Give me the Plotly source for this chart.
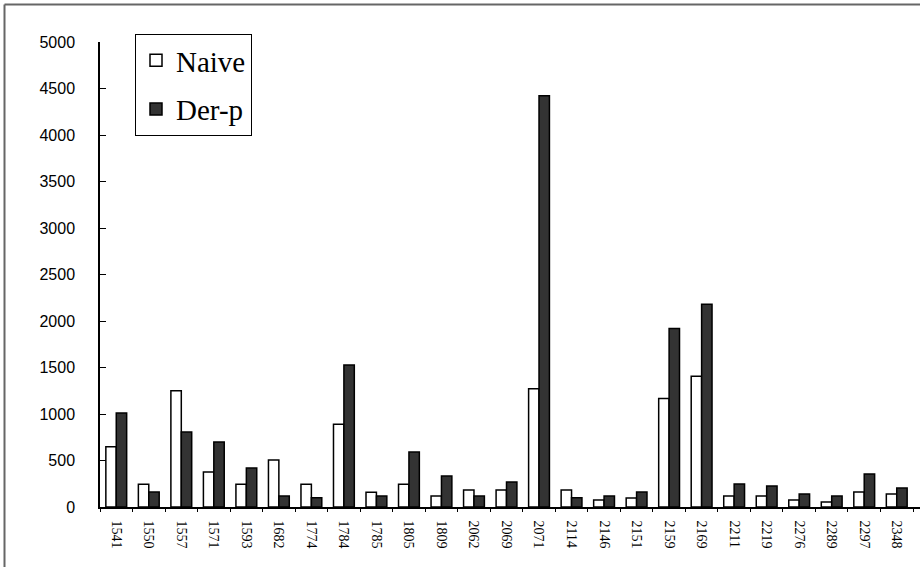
import plotly.graph_objects as go

categories = ["1541", "1550", "1557", "1571", "1593", "1682", "1774", "1784", "1785", "1805",
              "1809", "2062", "2069", "2071", "2114", "2146", "2151", "2159", "2169", "2211",
              "2219", "2276", "2289", "2297", "2348"]
naive = [648, 244, 1251, 376, 244, 505, 244, 889, 158, 244,
         118, 183, 183, 1272, 183, 75, 97, 1168, 1405, 118,
         118, 75, 54, 161, 140]
der_p = [1012, 161, 806, 699, 419, 118, 100, 1527, 118, 591,
         333, 118, 269, 4423, 100, 118, 161, 1920, 2180, 247,
         226, 140, 118, 355, 204]
y_ticks = [0, 500, 1000, 1500, 2000, 2500, 3000, 3500, 4000, 4500, 5000]

W, H = 920, 567
L, R, T, B = 100, 0, 42, 60
pw, ph = W - L - R, H - T - B
step = 32.52  # pixels per category in the reference

fig = go.Figure()
fig.add_trace(go.Bar(x=categories, y=naive, name="Naive", legendgroup="a",
                     marker=dict(color="white", line=dict(color="black", width=1.5))))
fig.add_trace(go.Bar(x=categories, y=der_p, name="Der-p", legendgroup="b",
                     marker=dict(color="#333333", line=dict(color="black", width=1.5))))

# outer frame (top and left edges visible; the rest lies outside the picture)
fx0 = (4.5 - L) / pw
fy1 = 1 + (T - 4.5) / ph
fig.add_shape(type="line", xref="paper", yref="paper", x0=fx0, x1=(W + 10 - L) / pw,
              y0=fy1, y1=fy1, line=dict(color="#666666", width=2))
fig.add_shape(type="line", xref="paper", yref="paper", x0=fx0, x1=fx0,
              y0=fy1, y1=-(B + 10) / ph, line=dict(color="#666666", width=2))

fig.update_layout(
    width=W, height=H,
    margin=dict(l=L, r=R, t=T, b=B, pad=0),
    paper_bgcolor="white", plot_bgcolor="white",
    barmode="group", bargap=0.36, bargroupgap=0,
    font=dict(family="Liberation Sans, Arial, sans-serif", color="black"),
    legend=dict(x=(135 - L) / pw, y=1 + (T - 34) / ph, xanchor="left", yanchor="top",
                bordercolor="black", borderwidth=1, bgcolor="white",
                font=dict(family="Liberation Serif, Times New Roman, serif", size=29),
                tracegroupgap=8, itemwidth=30),
    xaxis=dict(showline=True, linecolor="black", linewidth=1.5, showgrid=False,
               ticks="outside", ticklen=3, tickcolor="black", tickson="boundaries",
               tickangle=90, tickfont=dict(family="Liberation Serif, serif", size=14),
               ticklabelstandoff=9, range=[-0.5, -0.5 + pw / step], fixedrange=True),
    yaxis=dict(showline=True, linecolor="black", linewidth=1.5, showgrid=False,
               range=[0, 5000], tickvals=y_ticks, ticks="inside", ticklen=6,
               tickcolor="black", tickfont=dict(size=16), ticklabelstandoff=20,
               zeroline=False, fixedrange=True),
    showlegend=True,
)

fig.write_html("out.html", config={"displayModeBar": False},
               post_script=("document.body.style.margin='0';"
                            "document.body.style.overflow='hidden';"
                            "document.documentElement.style.overflow='hidden';"))
